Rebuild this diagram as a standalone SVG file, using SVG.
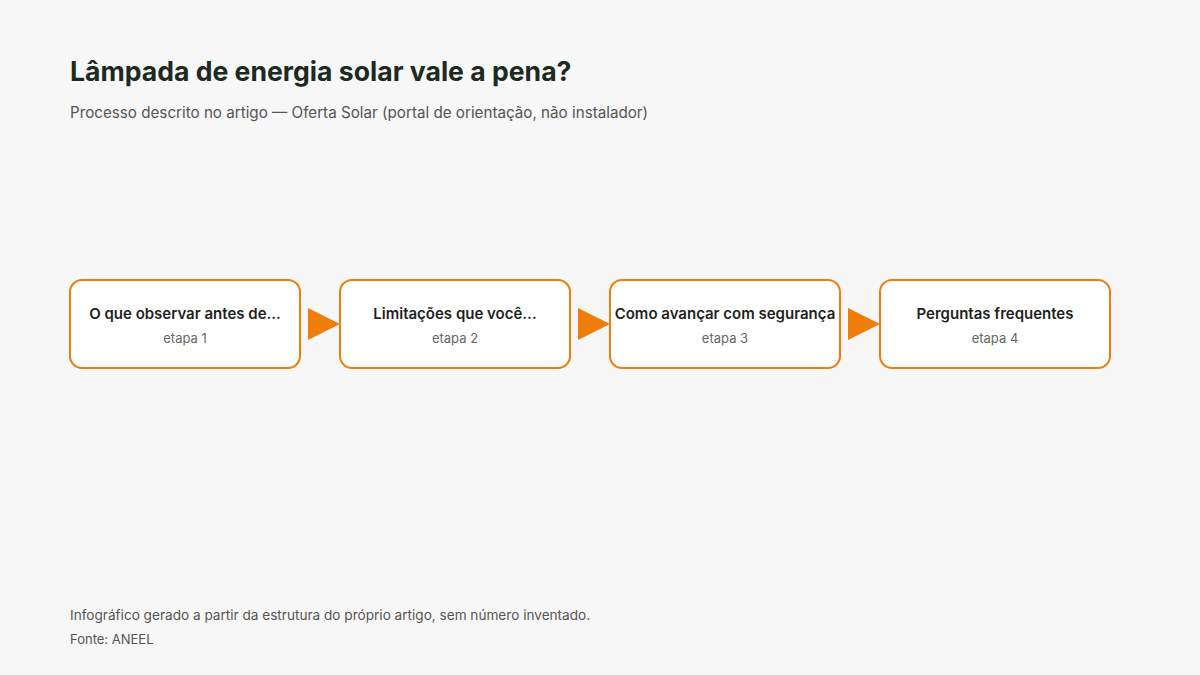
<svg xmlns="http://www.w3.org/2000/svg" width="1200" height="675" viewBox="0 0 1200 675">
<style>
.t{font-family:Inter,"Noto Sans","Liberation Sans",sans-serif}
.box{fill:#ffffff;stroke:#f07c0a;stroke-width:2}
.nt{font-size:15px;font-weight:600;fill:#1f1f1f;text-anchor:middle}
.ns{font-size:13px;fill:#666666;text-anchor:middle}
.arr{fill:#f07c0a}
</style>
<rect width="1200" height="675" fill="#f7f7f7"/>
<text class="t" x="70" y="81" font-size="26.6" font-weight="700" fill="#1c2a22">Lâmpada de energia solar vale a pena?</text>
<text class="t" x="70" y="118" font-size="15.2" fill="#555555">Processo descrito no artigo — Oferta Solar (portal de orientação, não instalador)</text>
<g id="connectors">
<polygon class="arr" points="308,308 340,324 308,340"/>
<polygon class="arr" points="578,308 610,324 578,340"/>
<polygon class="arr" points="848,308 880,324 848,340"/>
</g>
<g id="node1">
<rect class="box" x="70" y="280" width="230" height="88" rx="12"/>
<text class="t nt" x="185" y="319">O que observar antes de...</text>
<text class="t ns" x="185" y="343">etapa 1</text>
</g>
<g id="node2">
<rect class="box" x="340" y="280" width="230" height="88" rx="12"/>
<text class="t nt" x="455" y="319">Limitações que você...</text>
<text class="t ns" x="455" y="343">etapa 2</text>
</g>
<g id="node3">
<rect class="box" x="610" y="280" width="230" height="88" rx="12"/>
<text class="t nt" x="725" y="319">Como avançar com segurança</text>
<text class="t ns" x="725" y="343">etapa 3</text>
</g>
<g id="node4">
<rect class="box" x="880" y="280" width="230" height="88" rx="12"/>
<text class="t nt" x="995" y="319">Perguntas frequentes</text>
<text class="t ns" x="995" y="343">etapa 4</text>
</g>
<text class="t" x="70" y="620" font-size="13.6" fill="#555555">Infográfico gerado a partir da estrutura do próprio artigo, sem número inventado.</text>
<text class="t" x="70" y="644" font-size="13" fill="#555555">Fonte: ANEEL</text>
</svg>
